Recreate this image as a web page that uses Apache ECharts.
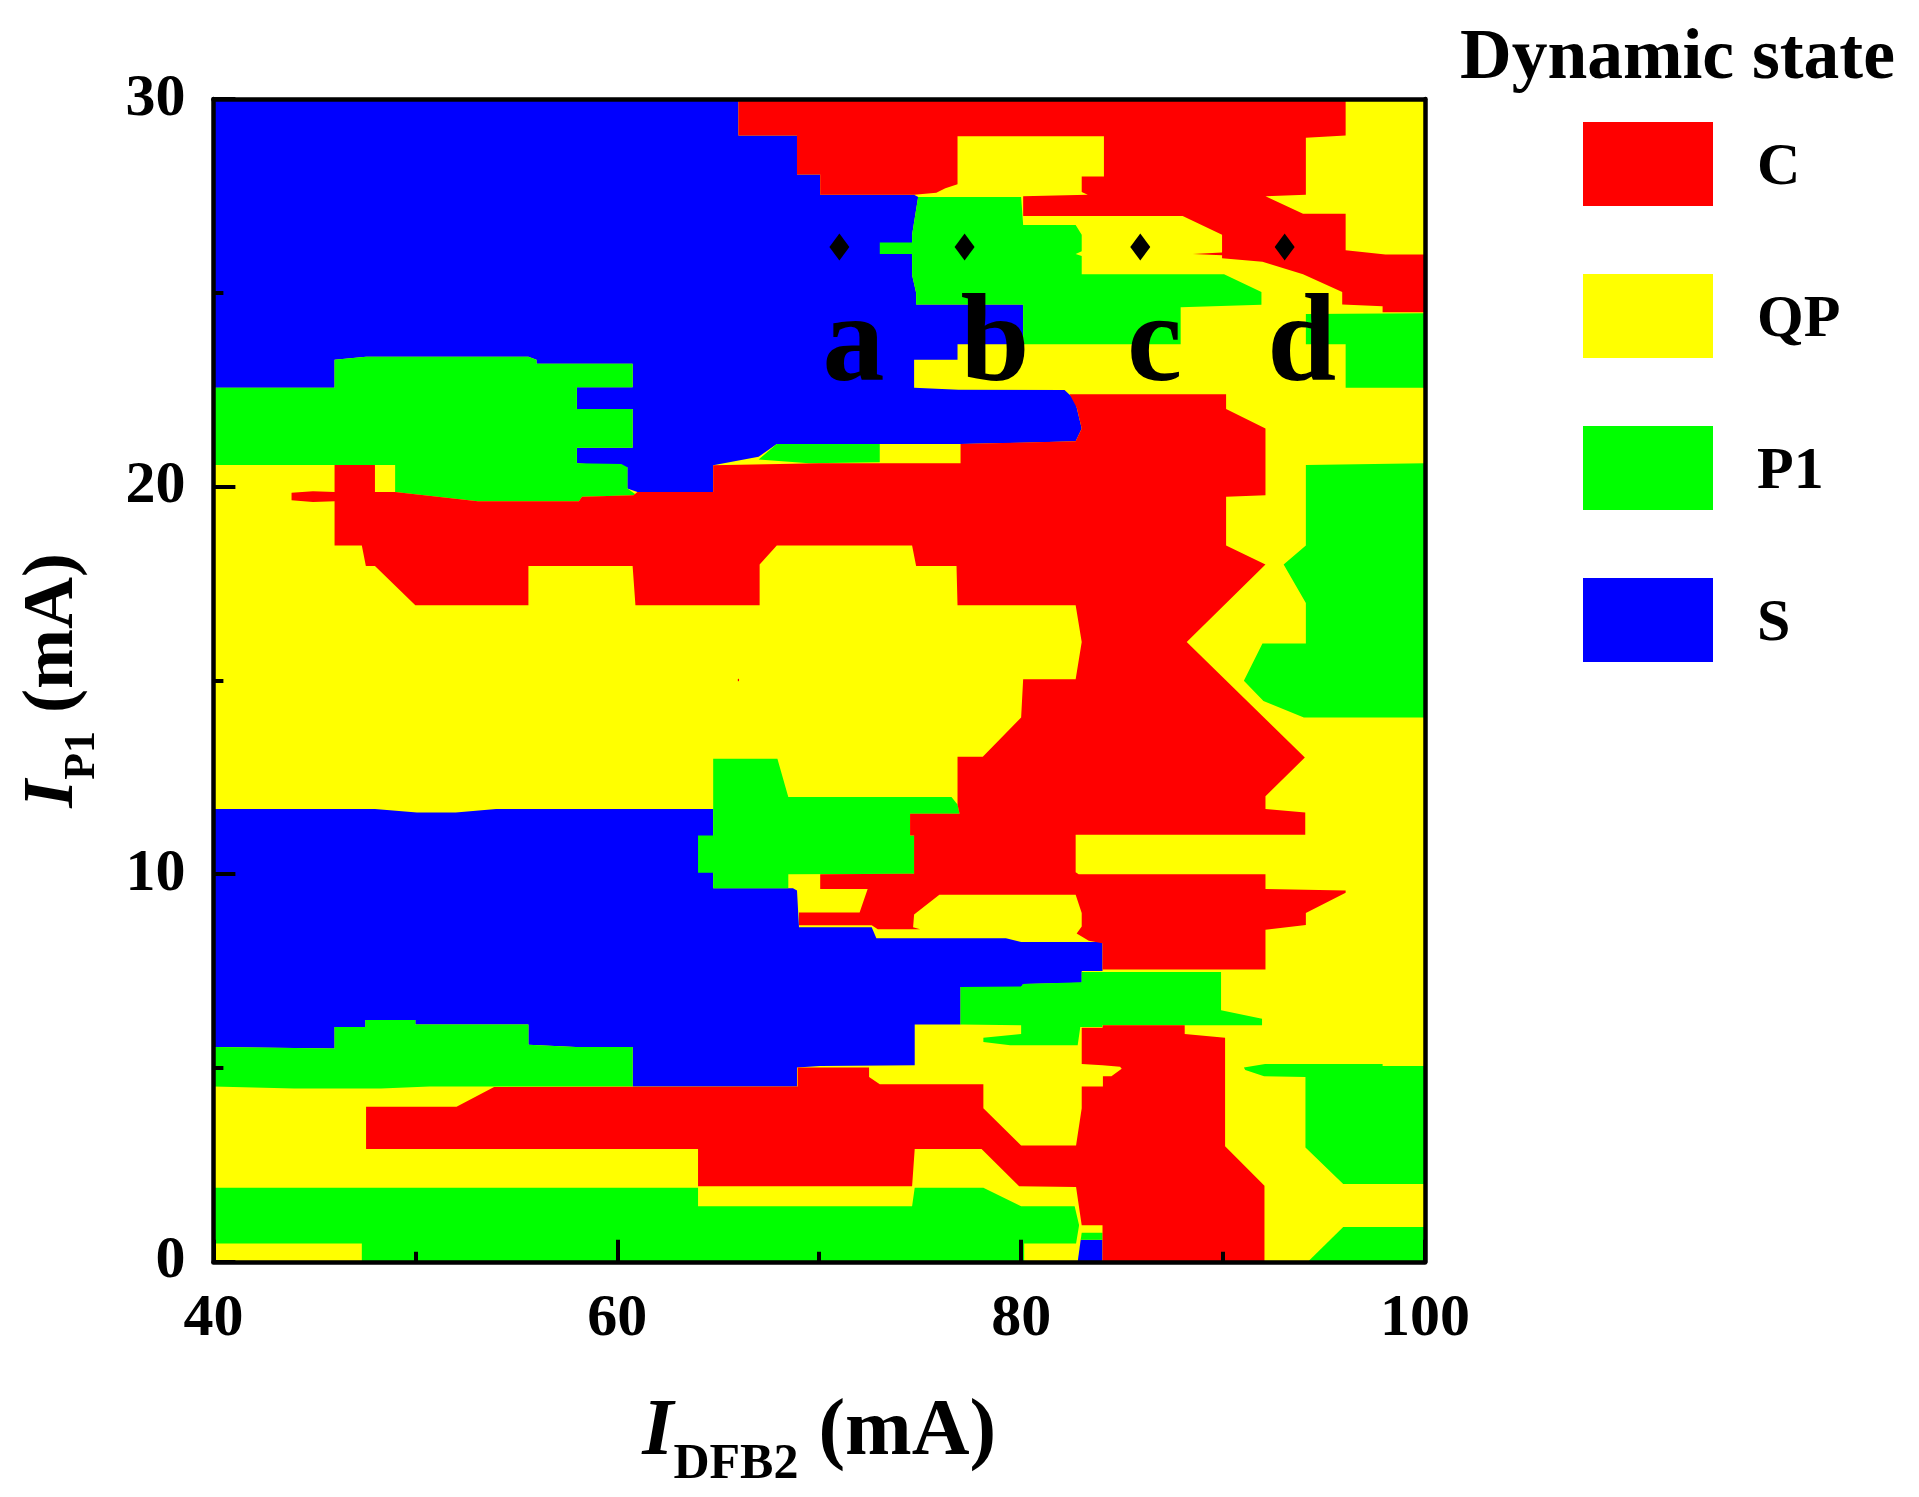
<!DOCTYPE html>
<html>
<head>
<meta charset="utf-8">
<style>html,body{margin:0;padding:0;background:#fff}#chart{width:1919px;height:1497px}</style>
<script src="https://cdn.jsdelivr.net/npm/echarts@6/dist/echarts.min.js"></script>
</head>
<body>
<div id="chart"></div>
<script>
// State categories in legend order
const stateNames = ['C', 'QP', 'P1', 'S'];
const stateColors = { C: '#ff0000', QP: '#ffff00', P1: '#00ff00', S: '#0000ff' };

// Axis ranges and tick steps
const xRange = [40, 100];
const yRange = [0, 30];
const xStep = 20;
const yStep = 10;

// Regions per state as outlines of [I_DFB2, I_P1] in mA
const regionsQP = [
  [[40,0],[100,0],[100,30],[40,30]]
];
const regionsS = [
  [[40,30],[66,30],[66,29.06],[68.9,29.06],[68.9,28.05],[70.05,28.05],[70.05,27.53],[74.7,27.53],[74.9,27.47],[74.6,26.5],[74.6,25.46],[74.8,25],[74.8,24.7],[80.1,24.7],[80.1,23.67],[76.85,23.67],[76.85,23.27],[74.7,23.27],[74.7,22.55],[76.9,22.5],[82.15,22.49],[82.4,22.37],[82.75,22.25],[82.75,22.04],[83,21.5],[82.7,21.17],[80,21.13],[77,21.1],[67.9,21.1],[67,20.77],[64.75,20.55],[64.75,19.86],[61,19.86],[60.5,19.95],[60.5,20.5],[58,20.6],[58,21],[60.76,21],[60.76,22],[58,22],[58,22.56],[60.76,22.56],[60.76,23.17],[56,23.17],[56,23.27],[55.6,23.35],[47.56,23.35],[46,23.27],[46,22.55],[40,22.55]],
  [[40,11.68],[48,11.68],[50.08,11.59],[52,11.59],[54,11.68],[64.75,11.68],[64.75,9.64],[68.7,9.64],[68.9,9.58],[69,8.63],[72.6,8.63],[72.83,8.35],[79.25,8.35],[80,8.25],[84.03,8.25],[84.03,7.5],[83,7.5],[83,7.2],[80.1,7.17],[80,7.09],[77,7.09],[77,6.12],[74.73,6.12],[74.73,5.07],[70.05,5.05],[68.9,5.01],[68.9,4.52],[60.76,4.52],[60.76,5.54],[57.94,5.54],[55.6,5.6],[55.6,6.12],[50,6.12],[50,6.24],[47.53,6.24],[47.53,6.06],[46,6.06],[46,5.5],[40,5.54]],
  [[82.95,0.57],[84.03,0.57],[84.03,0],[82.8,0]]
];
const regionsP1 = [
  [[40,22.55],[46,22.55],[46,23.27],[47.56,23.35],[55.6,23.35],[56,23.27],[56,23.17],[60.76,23.17],[60.76,22.56],[58,22.56],[58,22],[60.76,22],[60.76,21],[58,21],[58,20.6],[60.2,20.58],[60.5,20.5],[60.5,19.95],[60.9,19.8],[60.8,19.78],[58.25,19.74],[58.1,19.62],[53.1,19.62],[49,19.86],[49,20.56],[40,20.56]],
  [[67.9,21.1],[73,21.1],[73,20.63],[69.5,20.6],[67,20.7]],
  [[74.9,27.47],[80,27.47],[80.1,26.75],[82.7,26.75],[83,26.5],[83,26.07],[82.7,26],[83,25.95],[83,25.48],[90.05,25.48],[91.9,25.02],[91.9,24.69],[87.9,24.63],[87.9,23.67],[80.1,23.67],[80.1,24.7],[74.8,24.7],[74.8,25],[74.6,25.46],[74.6,26],[73,26],[73,26.3],[74.6,26.3],[74.6,26.5]],
  [[94.1,24.45],[100,24.47],[100,22.55],[96.07,22.55],[96.07,23.67],[94.1,23.67]],
  [[94.1,20.56],[100,20.6],[100,14.04],[94,14.04],[92,14.47],[91.03,14.99],[91.95,15.95],[94.1,15.95],[94.1,17],[93,17.99],[94.1,18.48]],
  [[64.75,12.98],[67.93,12.98],[68.47,11.99],[76.55,11.99],[76.85,11.8],[76.95,11.56],[74.5,11.56],[74.5,11],[74.73,11],[74.73,10.01],[68.47,10],[68.47,9.64],[64.75,9.64],[64.75,10.04],[64,10.04],[64,11],[64.75,11]],
  [[77,7.09],[80,7.1],[80.1,7.17],[83,7.21],[83,7.48],[89.9,7.48],[89.9,6.49],[91.93,6.27],[91.93,6.1],[84.03,6.1],[84.03,6.06],[82.93,6.06],[82.8,5.59],[79.46,5.59],[78.13,5.67],[78.13,5.78],[80,5.88],[80,6.1],[77,6.12]],
  [[40,5.54],[46,5.5],[46,6.06],[47.53,6.06],[47.53,6.24],[50,6.24],[50,6.12],[55.6,6.12],[55.6,5.6],[57.94,5.54],[60.76,5.54],[60.76,4.52],[50.7,4.52],[48.3,4.47],[44,4.47],[40,4.52]],
  [[91.03,5.01],[92.08,5.1],[97.9,5.1],[97.9,5.05],[100,5.05],[100,2.01],[95.95,2.01],[94.08,2.95],[94.08,4.77],[92.03,4.79],[91.1,4.95]],
  [[95.95,0.9],[100,0.9],[100,0],[94.2,0]],
  [[40,1.91],[64,1.91],[64,1.43],[74.6,1.43],[74.73,1.91],[78.13,1.91],[80,1.43],[82.65,1.43],[82.87,0.94],[82.72,0.47],[80.15,0.47],[80.15,0],[47.35,0],[47.35,0.47],[40,0.47]],
  [[83,0.75],[84.03,0.75],[84.03,0.57],[82.95,0.57]]
];
const regionsC = [
  [[66,30],[96.07,30],[96.07,29.06],[94.1,29],[94.1,27.53],[92.1,27.49],[93.96,27.04],[96.07,27.04],[96.07,26.1],[98.04,25.99],[100,25.99],[100,24.5],[97.9,24.5],[97.9,24.65],[95.9,24.7],[95.9,25.02],[93.96,25.48],[91.95,25.8],[89.95,25.89],[89.95,25.97],[88.5,26],[89.95,26.04],[89.95,26.5],[88,26.98],[80.1,26.98],[80.1,27.49],[83.3,27.53],[83,27.6],[83,28],[84.1,28],[84.1,29.04],[76.85,29.04],[76.85,27.8],[76.25,27.7],[75.8,27.58],[74.7,27.53],[70.05,27.53],[70.05,28.05],[68.9,28.05],[68.9,29.06],[66,29.06]],
  [[46,20.56],[48,20.56],[48,19.86],[49,19.86],[53.1,19.62],[58.1,19.62],[58.25,19.74],[60.8,19.78],[61,19.86],[64.75,19.86],[64.75,20.55],[70,20.6],[77,20.6],[77,21.1],[82.7,21.17],[83,21.5],[82.75,22.04],[82.4,22.38],[90.15,22.38],[90.15,22],[92.1,21.5],[92.1,19.78],[90.15,19.74],[90.15,18.48],[92.1,17.99],[88.2,15.99],[94.05,13.01],[92.1,12.01],[92.1,11.68],[94.07,11.59],[94.07,11.02],[82.7,11.02],[82.7,10.05],[82.85,10],[92.1,10],[92.1,9.62],[96.07,9.58],[96.07,9.52],[94.1,9],[94.1,8.69],[92.1,8.57],[92.1,7.54],[84.03,7.54],[84.03,8.22],[83.35,8.28],[82.75,8.47],[83,8.65],[83,9],[82.7,9.47],[75.95,9.47],[74.7,8.96],[74.65,8.63],[75,8.58],[72.9,8.58],[72.6,8.68],[69,8.68],[69,9.01],[72,9.01],[72.4,9.62],[70.05,9.62],[70.05,10],[74.7,10.01],[74.7,11],[74.5,11],[74.5,11.56],[76.95,11.56],[76.85,11.8],[76.85,13.03],[78.1,13.03],[80,14.04],[80.1,15.03],[82.7,15.03],[83,15.99],[82.7,16.94],[76.85,16.94],[76.8,17.95],[74.8,17.95],[74.6,18.48],[67.9,18.48],[67.05,17.99],[67.05,16.94],[60.9,16.94],[60.76,17.95],[55.6,17.95],[55.6,16.94],[50,16.94],[48,17.95],[47.55,17.95],[47.35,18.48],[46,18.48],[46,19.62],[44.93,19.6],[43.87,19.65],[43.87,19.84],[44.93,19.88],[46,19.86]],
  [[83,6.04],[84.03,6.04],[84.05,6.1],[88.1,6.1],[88.1,5.88],[90.1,5.78],[90.1,2.98],[92.05,1.96],[92.05,0],[84.03,0],[84.03,0.94],[83,0.94],[82.72,1.93],[79.9,1.95],[78.04,2.91],[74.73,2.91],[74.6,1.95],[64,1.95],[64,2.91],[47.56,2.91],[47.56,4],[52.04,4],[53.9,4.51],[68.93,4.52],[68.93,5.01],[72.47,5.01],[72.47,4.77],[73,4.58],[78.13,4.58],[78.13,3.96],[80,3],[82.72,3],[83,3.96],[83,4.52],[84.05,4.52],[84.05,4.79],[84.47,4.79],[84.98,4.98],[84.9,5.03],[84.03,5.07],[83,5.1]],
  [[65.97,14.98],[66.03,14.98],[66.03,15.04],[65.97,15.04]]
];

// Marked operating points a-d and where their letters sit
const pointX = [71.0, 77.2, 85.9, 93.05];
const pointY = [26.18, 26.18, 26.18, 26.18];
const letterNames = ['a', 'b', 'c', 'd'];
const letterX = [71.7, 78.7, 86.6, 93.9];
const letterY = [22.8, 22.8, 22.8, 22.8];

const serif = 'Liberation Serif';

function regionSeries(name, regions, z) {
  return {
    name, type: 'custom', z, silent: true, animation: false,
    coordinateSystem: 'cartesian2d',
    itemStyle: { color: stateColors[name] },
    data: regions.map(r => r[0]),
    renderItem(params, api) {
      const pts = regions[params.dataIndex].map(p => api.coord(p));
      return { type: 'polygon', shape: { points: pts }, style: { fill: stateColors[name] } };
    }
  };
}

const axisCommon = {
  axisLine: { show: true, onZero: false, lineStyle: { color: '#000', width: 4.5 } },
  axisTick: { show: true, inside: true, length: 22, lineStyle: { color: '#000', width: 4 } },
  minorTick: { show: true, splitNumber: 2, length: 10, lineStyle: { color: '#000', width: 4 } },
  splitLine: { show: false }, minorSplitLine: { show: false }, z: 10
};
const frameAxis = {
  axisLine: { show: true, onZero: false, lineStyle: { color: '#000', width: 4.5 } },
  axisTick: { show: false }, axisLabel: { show: false }, splitLine: { show: false }, z: 10
};
function nameRich(mainSize, subSize, lift) {
  const base = { fontFamily: serif, fontWeight: 'bold', verticalAlign: 'bottom' };
  return {
    i: Object.assign({}, base, { fontStyle: 'italic', fontSize: mainSize, padding: [0, 0, lift, 0] }),
    sub: Object.assign({}, base, { fontSize: subSize }),
    t: Object.assign({}, base, { fontSize: mainSize, padding: [0, 0, lift, 0] })
  };
}

const chart = echarts.init(document.getElementById('chart'), null, { renderer: 'canvas' });
chart.setOption({
  animation: false,
  backgroundColor: '#fff',
  title: {
    text: 'Dynamic state', left: 1460, top: 24, padding: 0,
    textStyle: { fontFamily: serif, fontWeight: 'bold', fontSize: 71.5, color: '#000' }
  },
  legend: {
    data: stateNames, orient: 'vertical', left: 1583, top: 122, padding: 0,
    itemWidth: 130, itemHeight: 84, itemGap: 68, icon: 'rect', selectedMode: false,
    formatter: '{a|{name}}',
    textStyle: {
      rich: { a: { fontFamily: serif, fontWeight: 'bold', fontSize: 60, color: '#000', padding: [9, 0, 0, 39] } }
    }
  },
  grid: { left: 213.4, top: 99, width: 1211.6, height: 1162.8, outerBoundsMode: 'none', containLabel: false },
  xAxis: [
    Object.assign({}, axisCommon, {
      type: 'value', min: xRange[0], max: xRange[1], interval: xStep,
      axisLabel: { fontFamily: serif, fontWeight: 'bold', fontSize: 60, color: '#000', margin: 28 },
      name: '{i|I}{sub|DFB2}{t| (mA)}', nameLocation: 'middle', nameGap: 132,
      nameTextStyle: { rich: nameRich(80, 50, 16) }
    }),
    Object.assign({}, frameAxis, { type: 'value', position: 'top', min: xRange[0], max: xRange[1], interval: xStep })
  ],
  yAxis: [
    Object.assign({}, axisCommon, {
      type: 'value', min: yRange[0], max: yRange[1], interval: yStep,
      axisLabel: { fontFamily: serif, fontWeight: 'bold', fontSize: 60, color: '#000', margin: 28 },
      name: '{i|I}{sub|P1}{t| (mA)}', nameLocation: 'middle', nameGap: 109, nameRotate: 90,
      nameTextStyle: { rich: nameRich(72, 44, 15) }
    }),
    Object.assign({}, frameAxis, { type: 'value', position: 'right', min: yRange[0], max: yRange[1], interval: yStep })
  ],
  series: [
    regionSeries('QP', regionsQP, 1),
    regionSeries('S', regionsS, 2),
    regionSeries('P1', regionsP1, 3),
    regionSeries('C', regionsC, 4),
    {
      name: 'points', type: 'scatter', z: 6, silent: true, animation: false,
      symbol: 'diamond', symbolSize: [20, 27], itemStyle: { color: '#000', opacity: 1 },
      data: pointX.map((x, i) => [x, pointY[i]])
    },
    {
      name: 'letters', type: 'scatter', z: 6, silent: true, animation: false,
      symbolSize: 1, itemStyle: { color: 'rgba(0,0,0,0)', opacity: 1 },
      data: letterX.map((x, i) => ({ value: [x, letterY[i]], name: letterNames[i] })),
      label: {
        show: true, position: 'inside', formatter: p => p.name, opacity: 1,
        fontFamily: serif, fontWeight: 'bold', fontSize: 124, color: '#000',
        align: 'center', verticalAlign: 'middle', offset: [0, -30]
      }
    }
  ]
});
</script>
</body>
</html>
